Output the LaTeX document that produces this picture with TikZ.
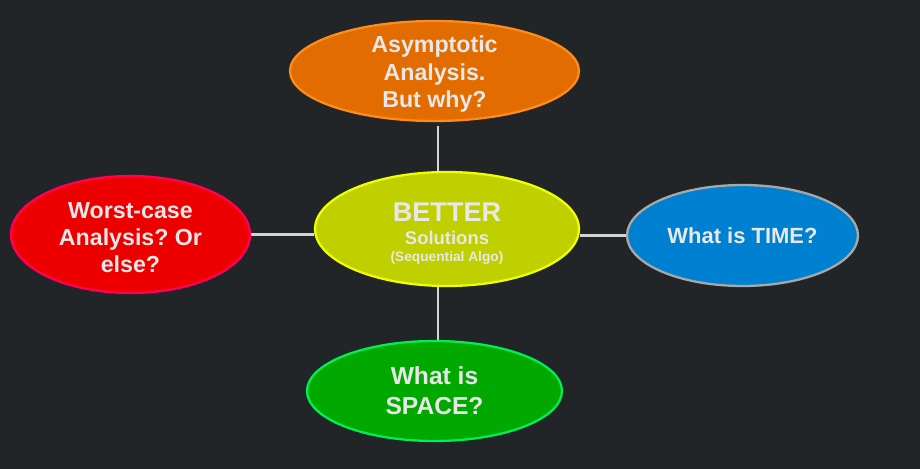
\documentclass[tikz,border=0pt]{standalone}
\usepackage{fontspec}
\setmainfont{Liberation Sans}
\usetikzlibrary{shapes.geometric}
\definecolor{bgdark}{HTML}{222527}
\definecolor{asymfill}{HTML}{E36C00}
\definecolor{asymline}{HTML}{FF8C1A}
\definecolor{betterfill}{HTML}{BFCF00}
\definecolor{betterline}{HTML}{EEFF00}
\definecolor{worstfill}{HTML}{EE0000}
\definecolor{worstline}{HTML}{FF0055}
\definecolor{timefill}{HTML}{0080D0}
\definecolor{timeline}{HTML}{A8A8A8}
\definecolor{spacefill}{HTML}{00A800}
\definecolor{spaceline}{HTML}{00EE55}
\definecolor{txtgray}{HTML}{E8E8E8}
\definecolor{linkgray}{HTML}{D4D4D4}
\frenchspacing

\begin{document}
\begin{tikzpicture}[x=0.02cm, y=-0.02cm,
    bubble/.style={ellipse, draw, line width=1.3pt, inner sep=0pt,
                   align=center, text=txtgray,
                   font=\bfseries\fontsize{13.2}{15.4}\selectfont},
    link/.style={line width=1.7pt, draw=linkgray}]

    % Background
    \fill[bgdark] (0,0) rectangle (920,469);
    \useasboundingbox (0,0) rectangle (920,469);

    % Central bubble
    \node[bubble, fill=betterfill, draw=betterline, minimum width=5.28cm,
          minimum height=2.28cm, font=\bfseries\fontsize{12.8}{13}\selectfont]
          (better) at (447,229)
          {\rule{0pt}{16pt}{\fontsize{15.4}{18}\selectfont BETTER}\\
           {\fontsize{10.5}{12}\selectfont Solutions}\\[-2.8pt]
           {\fontsize{7.8}{9}\selectfont (Sequential Algo)}};

    % Outer bubbles
    \node[bubble, fill=asymfill, draw=asymline, minimum width=5.78cm,
          minimum height=2cm, inner sep=-3.2pt] (asym) at (434.5,71)
          {\rule{0pt}{13pt}Asymptotic\\Analysis.\\But why?};
    \node[bubble, fill=worstfill, draw=worstline, minimum width=4.78cm,
          minimum height=2.34cm, inner sep=-1pt] (worst) at (130.5,234.5)
          {\rule{0pt}{13pt}Worst-case\\Analysis? Or\\else?};
    \node[bubble, fill=timefill, draw=timeline, minimum width=4.62cm,
          minimum height=2.02cm, font=\bfseries\fontsize{12.5}{15}\selectfont]
          (timeq) at (742.5,235.5) {What is TIME?};
    \node[bubble, fill=spacefill, draw=spaceline, minimum width=5.1cm,
          minimum height=2cm, font=\bfseries\fontsize{14}{17}\selectfont]
          (space) at (434.5,391) {What is\\SPACE?};

    % Links to the centre
    \draw[link, shorten <=2pt] ([xshift=0.07cm]asym.south)
        -- ([xshift=0.07cm]asym.south |- better.north);
    \draw[link] ([xshift=0.07cm]space.north)
        -- ([xshift=0.07cm]space.north |- better.south);
    \draw[link] (worst.east) -- (worst.east -| better.west);
    \draw[link] (timeq.west) -- (timeq.west -| better.east);

\end{tikzpicture}
\end{document}
